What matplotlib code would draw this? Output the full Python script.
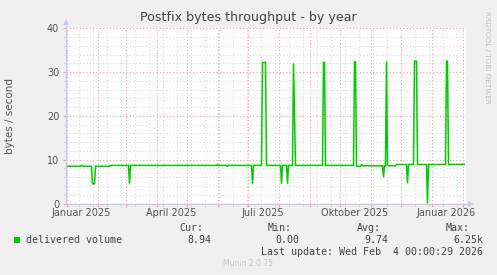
import matplotlib
matplotlib.use("Agg")
import matplotlib.pyplot as plt
import matplotlib.dates as mdates
import matplotlib.transforms as mtransforms
import pandas as pd
import numpy as np

# ---------------- data ----------------
dates = ["2024-12-31", "2025-01-15", "2025-01-16", "2025-01-17",
         "2025-01-26", "2025-01-27", "2025-01-29", "2025-01-30",
         "2025-02-13", "2025-02-14",
         "2025-03-04", "2025-03-05", "2025-03-06",
         "2025-05-31", "2025-06-01", "2025-06-02",
         "2025-06-10", "2025-06-11", "2025-06-12",
         "2025-07-05", "2025-07-06", "2025-07-07",
         "2025-07-15", "2025-07-16", "2025-07-19", "2025-07-20",
         "2025-08-03", "2025-08-04", "2025-08-05",
         "2025-08-09", "2025-08-10", "2025-08-11",
         "2025-08-15", "2025-08-16", "2025-08-18",
         "2025-09-14", "2025-09-15", "2025-09-16", "2025-09-17",
         "2025-10-15", "2025-10-16", "2025-10-17", "2025-10-18",
         "2025-10-22", "2025-10-23", "2025-10-24",
         "2025-11-13", "2025-11-14", "2025-11-15",
         "2025-11-16", "2025-11-17", "2025-11-18", "2025-11-19",
         "2025-11-26", "2025-11-27",
         "2025-12-07", "2025-12-08", "2025-12-09",
         "2025-12-14", "2025-12-15", "2025-12-17", "2025-12-18",
         "2025-12-27", "2025-12-28", "2025-12-29",
         "2026-01-15", "2026-01-16", "2026-01-17", "2026-01-18",
         "2026-02-03"]
volume = [8.5, 8.5, 8.7, 8.5,
          8.5, 4.5, 4.5, 8.5,
          8.5, 8.7,
          8.7, 4.5, 8.7,
          8.7, 8.9, 8.7,
          8.7, 8.5, 8.7,
          8.7, 4.5, 8.7,
          8.7, 32.2, 32.2, 8.7,
          8.7, 4.5, 8.7,
          8.7, 4.5, 8.7,
          8.7, 32.0, 8.7,
          8.7, 32.2, 32.2, 8.7,
          8.7, 32.4, 32.3, 8.5,
          8.5, 8.9, 8.6,
          8.6, 6.0, 8.6,
          8.6, 32.4, 8.8, 8.6,
          8.6, 8.9,
          8.9, 4.6, 8.9,
          8.9, 32.5, 32.5, 8.9,
          8.9, 0.0, 8.9,
          8.9, 32.5, 32.5, 8.9,
          8.94]

x_labels = ["Januar 2025", "April 2025", "Juli 2025", "Oktober 2025", "Januar 2026"]
x_label_dates = ["2025-01-16", "2025-04-16", "2025-07-16", "2025-10-16", "2026-01-16"]
y_ticks = [0, 10, 20, 30, 40]

series_name = "delivered volume"
stat_heads = ["Cur:", "Min:", "Avg:", "Max:"]
stat_vals = ["8.94", "0.00", "9.74", "6.25k"]
last_update = "Last update: Wed Feb  4 00:00:29 2026"

# ---------------- figure ----------------
W, H = 497, 275
DPI = 100
fig = plt.figure(figsize=(W / DPI, H / DPI), dpi=DPI, facecolor="#F0F0F0")

x0, x1 = 65.5, 465.5
ytop, ybot = 28.3, 203.5
ax = fig.add_axes([x0 / W, (H - ybot) / H, (x1 - x0) / W, (ybot - ytop) / H])
ax.set_facecolor("white")

t = pd.to_datetime(dates)
ax.plot(t, volume, color="#00CC00", lw=1.1, zorder=5, solid_joinstyle="miter")

ax.set_xlim(pd.Timestamp("2024-12-31"), pd.Timestamp("2026-02-04"))
ax.set_ylim(0, 40)

for s in ax.spines.values():
    s.set_visible(False)

# grid
ax.set_yticks(y_ticks)
ax.set_yticks(np.arange(0, 41, 2), minor=True)
ax.xaxis.set_major_locator(mdates.MonthLocator())
ax.xaxis.set_minor_locator(mdates.WeekdayLocator(byweekday=mdates.MO, interval=2))
ax.xaxis.set_major_formatter(plt.NullFormatter())

red = "#F4A0A0"
gray = "#D8D8D8"
ax.grid(which="major", color=red, lw=0.8, ls=(0, (1, 2)), zorder=2)
ax.grid(which="minor", color=gray, lw=0.8, ls=(0, (1, 2)), zorder=1)
ax.tick_params(axis="both", which="major", length=2, width=0.8, color=red,
               direction="out", labelsize=7, labelcolor="#555555", pad=2.5)
ax.tick_params(axis="both", which="minor", length=2, width=0.8, color=gray,
               direction="out")
ax.set_axisbelow(True)

# x labels centered mid-month
trans = mtransforms.blended_transform_factory(ax.transData, fig.transFigure)
for lab, d in zip(x_labels, x_label_dates):
    ax.text(pd.Timestamp(d), 1 - 213.5 / H, lab, transform=trans, ha="center",
            va="center", fontsize=7, color="#555555")

# axis lines with arrows
axis_col = "#C8C8F0"
ax.plot([0, 0], [0, 1.03], transform=ax.transAxes, color=axis_col, lw=1, clip_on=False, zorder=6)
ax.plot([0, 1.01], [0, 0], transform=ax.transAxes, color=axis_col, lw=1, clip_on=False, zorder=6)
ax.plot([0], [1.035], transform=ax.transAxes, marker="^", ms=4.5, color=axis_col,
        clip_on=False, zorder=6, markeredgewidth=0)
ax.plot([1.013], [0], transform=ax.transAxes, marker=">", ms=4.5, color=axis_col,
        clip_on=False, zorder=6, markeredgewidth=0)

# title and labels
fig.text(248 / W, 1 - 18 / H, "Postfix bytes throughput - by year", ha="center",
         va="center", fontsize=9.1, color="#444444")
fig.text(10 / W, 1 - 116 / H, "bytes / second", rotation=90, ha="center",
         va="center", fontsize=7.5, color="#555555")
fig.text(487 / W, 1 - 57 / H, "RRDTOOL / TOBI OETIKER", rotation=270, ha="center",
         va="center", fontsize=5.2, color="#C0C0C0")

# legend
mono = "DejaVu Sans Mono"
fig.patches.append(plt.Rectangle((14 / W, 1 - 243 / H), 6 / W, 6 / H,
                                 transform=fig.transFigure, facecolor="#00CC00",
                                 edgecolor="none"))
fig.text(26 / W, 1 - 240 / H, series_name, ha="left", va="center",
         fontsize=7.2, family=mono, color="#444444")
head_x = [203, 292, 381, 470]
val_x = [211, 299, 388, 483]
for hx, hd in zip(head_x, stat_heads):
    fig.text(hx / W, 1 - 228 / H, hd, ha="right", va="center", fontsize=7.2,
             family=mono, color="#444444")
for vx, v in zip(val_x, stat_vals):
    fig.text(vx / W, 1 - 240 / H, v, ha="right", va="center", fontsize=7.2,
             family=mono, color="#444444")
fig.text(483 / W, 1 - 252 / H, last_update, ha="right", va="center",
         fontsize=7.2, family=mono, color="#444444")
fig.text(248 / W, 1 - 264 / H, "Munin 2.0.75", ha="center", va="center",
         fontsize=5.5, color="#C8C8C8")

fig.savefig("out.png", dpi=DPI, facecolor=fig.get_facecolor())
